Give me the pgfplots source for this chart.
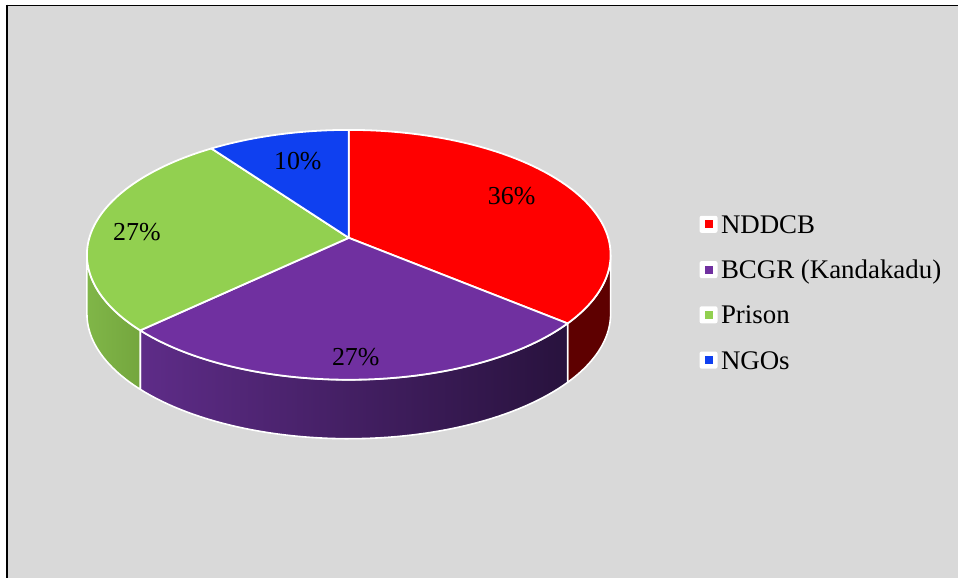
\documentclass[border=0pt]{standalone}
\usepackage{fontspec}
\setmainfont{Liberation Serif}
\usepackage{pgfplots}
\pgfplotsset{compat=1.18}
\usepackage{pgfplotstable}

\definecolor{bg}{HTML}{D9D9D9}
\definecolor{cRed}{HTML}{FF0000}
\definecolor{cPurple}{HTML}{7030A0}
\definecolor{cGreen}{HTML}{92D050}
\definecolor{cBlue}{HTML}{0F40F0}
\definecolor{sRed}{HTML}{5E0000}
\definecolor{sPurpleL}{HTML}{5E2C88}
\definecolor{sPurpleR}{HTML}{28123D}
\definecolor{sGreenL}{HTML}{80B648}
\definecolor{sGreenR}{HTML}{74A63E}

\pgfplotstableread{
name value
NDDCB 36
BCGR 27
Prison 27
NGOs 10
}\piedata

\begin{document}
\begin{tikzpicture}[declare function={
  px(\t)=349+259.6*sin(\t)/(1+0.136*cos(\t));
  py(\t)=238-122.7*cos(\t)/(1+0.136*cos(\t));
}]
\pgfplotstablegetelem{0}{value}\of\piedata \edef\va{\pgfplotsretval}
\pgfplotstablegetelem{1}{value}\of\piedata \edef\vb{\pgfplotsretval}
\pgfplotstablegetelem{2}{value}\of\piedata \edef\vc{\pgfplotsretval}
\pgfplotstablegetelem{3}{value}\of\piedata \edef\vd{\pgfplotsretval}
\pgfmathsetmacro\aA{3.6*\va}
\pgfmathsetmacro\aB{\aA+3.6*\vb}
\pgfmathsetmacro\aC{\aB+3.6*\vc}
\pgfmathsetmacro\aD{\aC+3.6*\vd}
\pgfmathsetmacro\sR{acos(-0.136)}
\pgfmathsetmacro\sL{360-\sR}
\begin{axis}[
  scale only axis, width=959bp, height=578bp,
  xmin=0, xmax=959, ymin=0, ymax=578, y dir=reverse,
  hide axis, clip=false,
  legend style={at={(axis cs:700,215.5)}, anchor=north west, draw=none, fill=none,
    inner sep=0pt, outer sep=0pt, row sep=27.4bp,
    font=\fontsize{27}{32}\selectfont,
    nodes={inner sep=0pt, text height=17.9bp, text depth=0pt},
    /tikz/every odd column/.append style={column sep=3.5bp}},
  legend cell align=left,
  legend image code/.code={
    \fill[white, rounded corners=2bp] (0bp,-8.5bp) rectangle (18bp,8.5bp);
    \fill (5bp,-4bp) rectangle (13bp,4bp);
  },
]
% background
\fill[white] (axis cs:0,0) rectangle (axis cs:959,578);
\fill[bg] (axis cs:7,5) rectangle (axis cs:959,578);
\draw[black, line width=1.3bp] (axis cs:6,5.2) -- (axis cs:959,5.2);
\draw[black, line width=2bp] (axis cs:7,4.6) -- (axis cs:7,578);

% sides
\path[fill=sRed, draw=white, line width=1.6bp, line join=round]
  plot[domain=\sR:\aA, samples=40, variable=\t] (axis cs:{px(\t)},{py(\t)})
  -- plot[domain=\aA:\sR, samples=40, variable=\t] (axis cs:{px(\t)},{py(\t)+59}) -- cycle;
\path[left color=sPurpleL, right color=sPurpleR, draw=white, line width=1.6bp, line join=round]
  plot[domain=\aA:\aB, samples=60, variable=\t] (axis cs:{px(\t)},{py(\t)})
  -- plot[domain=\aB:\aA, samples=60, variable=\t] (axis cs:{px(\t)},{py(\t)+59}) -- cycle;
\path[left color=sGreenL, right color=sGreenR, draw=white, line width=1.6bp, line join=round]
  plot[domain=\aB:\sL, samples=40, variable=\t] (axis cs:{px(\t)},{py(\t)})
  -- plot[domain=\sL:\aB, samples=40, variable=\t] (axis cs:{px(\t)},{py(\t)+59}) -- cycle;

% top faces
\path[fill=cRed, draw=white, line width=1.8bp, line join=round]
  (axis cs:349,238) -- plot[domain=0:\aA, samples=80, variable=\t] (axis cs:{px(\t)},{py(\t)}) -- cycle;
\path[fill=cPurple, draw=white, line width=1.8bp, line join=round]
  (axis cs:349,238) -- plot[domain=\aA:\aB, samples=80, variable=\t] (axis cs:{px(\t)},{py(\t)}) -- cycle;
\path[fill=cGreen, draw=white, line width=1.8bp, line join=round]
  (axis cs:349,238) -- plot[domain=\aB:\aC, samples=80, variable=\t] (axis cs:{px(\t)},{py(\t)}) -- cycle;
\path[fill=cBlue, draw=white, line width=1.8bp, line join=round]
  (axis cs:349,238) -- plot[domain=\aC:\aD, samples=40, variable=\t] (axis cs:{px(\t)},{py(\t)}) -- cycle;

% labels
\node[font=\fontsize{26}{31}\selectfont, inner sep=0pt] at (axis cs:512,196) {36\%};
\node[font=\fontsize{26}{31}\selectfont, inner sep=0pt] at (axis cs:356,357) {27\%};
\node[font=\fontsize{26}{31}\selectfont, inner sep=0pt] at (axis cs:137,232) {27\%};
\node[font=\fontsize{26}{31}\selectfont, inner sep=0pt] at (axis cs:298,161) {10\%};

\addlegendimage{fill=cRed, draw=none}
\addlegendentry{NDDCB}
\addlegendimage{fill=cPurple, draw=none}
\addlegendentry{BCGR (Kandakadu)}
\addlegendimage{fill=cGreen, draw=none}
\addlegendentry{Prison}
\addlegendimage{fill=cBlue, draw=none}
\addlegendentry{NGOs}
\end{axis}
\end{tikzpicture}
\end{document}
